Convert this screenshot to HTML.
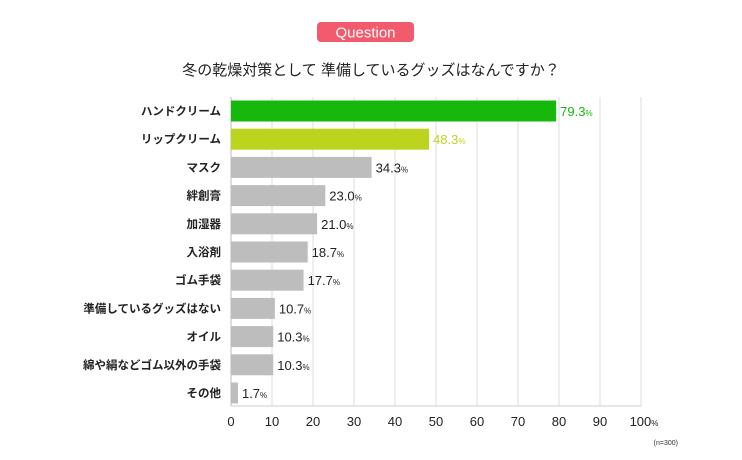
<!DOCTYPE html>
<html><head><meta charset="utf-8"><style>
body{margin:0;background:#fff;width:742px;height:455px;overflow:hidden;font-family:"Liberation Sans","Noto Sans CJK JP",sans-serif;}
</style></head><body>
<svg width="742" height="455" xmlns="http://www.w3.org/2000/svg">
<rect x="317" y="22" width="97" height="20" rx="4" fill="#f25a6e"/>
<text x="365.5" y="37.5" text-anchor="middle" fill="#fff" font-size="15">Question</text>
<text x="371" y="75" text-anchor="middle" fill="#222" font-size="15" font-family="Liberation Sans, Noto Sans CJK JP, sans-serif">冬の乾燥対策として 準備しているグッズはなんですか？</text>
<g id="grid"></g><g id="bars"></g><g id="ticks"></g>
<text x="678" y="445" text-anchor="end" fill="#333" font-size="7">(n=300)</text>
</svg>
<script>
const categories=["ハンドクリーム","リップクリーム","マスク","絆創膏","加湿器","入浴剤","ゴム手袋","準備しているグッズはない","オイル","綿や絹などゴム以外の手袋","その他"];
const values=[79.3,48.3,34.3,23.0,21.0,18.7,17.7,10.7,10.3,10.3,1.7];
const tickValues=[0,10,20,30,40,50,60,70,80,90,100];
const ns="http://www.w3.org/2000/svg";
const X0=231,X1=641,TOP=97,BOT=406,Y0=111,PITCH=28.2,BH=21;
const xs=v=>X0+(X1-X0)*v/100;
const ys=i=>Y0+i*PITCH;
function mk(tag,attrs,parent){const e=document.createElementNS(ns,tag);for(const k in attrs)e.setAttribute(k,attrs[k]);document.getElementById(parent).appendChild(e);return e;}
tickValues.forEach(t=>{
 const l=mk('line',{x1:xs(t),x2:xs(t),y1:TOP,y2:BOT,stroke:t===0?'#bbb':'#ddd','stroke-width':1},'grid');
 
 
 const tx=mk('text',{x:xs(t),y:426,'text-anchor':'middle','font-size':13,fill:'#222'},'ticks');
 tx.textContent=t;
 if(t===100){const s=document.createElementNS(ns,'tspan');s.setAttribute('font-size','8');s.textContent='%';tx.appendChild(s);tx.setAttribute('x',xs(t)+3);}
 
 
});
const bl=mk('line',{x1:X0,x2:X1,y1:BOT,y2:BOT,stroke:'#ccc','stroke-width':1},'grid');


categories.forEach((c,i)=>{
 const v=values[i];
 const col=i===0?'#16b80c':i===1?'#bdd41f':'#bdbdbd';
 const tcol=i===0?'#16b80c':i===1?'#bdd41f':'#222';
 const r=mk('rect',{x:X0,y:ys(i)-BH/2,width:xs(v)-X0,height:BH,fill:col},'bars');
 
 
 const lab=mk('text',{x:221,y:ys(i)+4,'text-anchor':'end','font-size':11.5,fill:'#222','font-weight':'bold'},'bars');
 lab.textContent=c;
 
 
 const vt=mk('text',{x:xs(v)+4,y:ys(i)+5,'font-size':13,fill:tcol},'bars');
 vt.textContent=v.toFixed(1);
 const s=document.createElementNS(ns,'tspan');s.setAttribute('font-size','8');s.textContent='%';vt.appendChild(s);
 
 
});
</script>
</body></html>
